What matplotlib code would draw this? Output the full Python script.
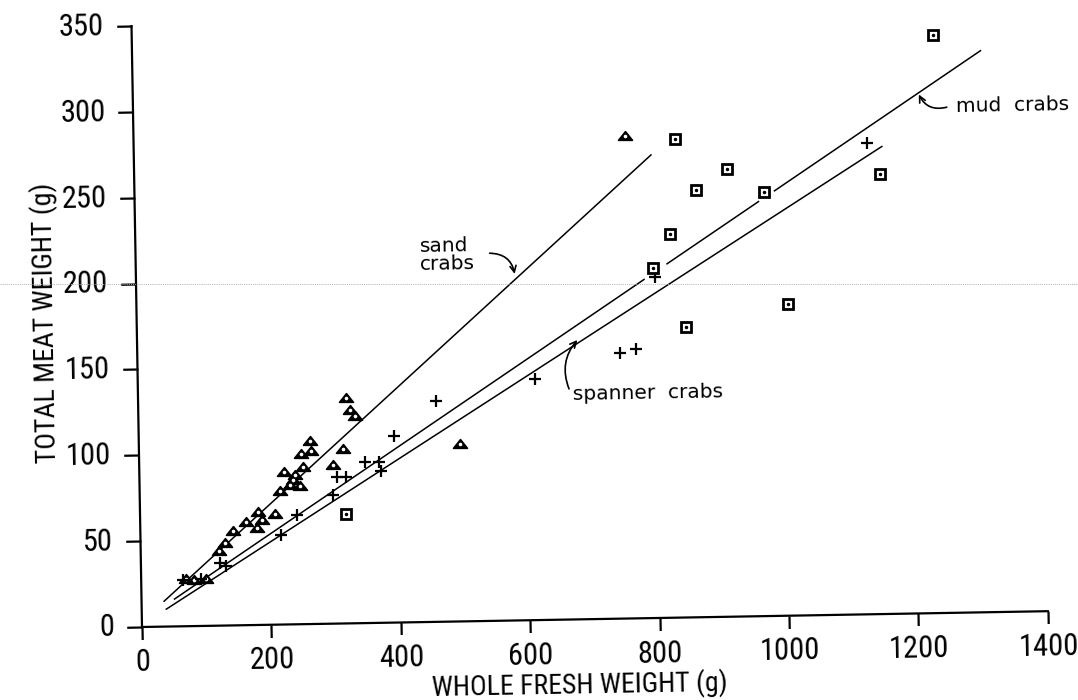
import numpy as np
import matplotlib
matplotlib.use("Agg")
import matplotlib.pyplot as plt
from matplotlib.path import Path
from matplotlib.lines import Line2D
from matplotlib.transforms import Affine2D
from matplotlib import font_manager
import mpl_toolkits.axisartist.floating_axes as floating_axes
from mpl_toolkits.axisartist.grid_finder import FixedLocator, DictFormatter

# ---------------- data ----------------
x_ticks = [0, 200, 400, 600, 800, 1000, 1200, 1400]
y_ticks = [0, 50, 100, 150, 200, 250, 300, 350]

sand_x = [70, 82, 100, 121, 130, 143.5, 164, 180, 183, 189, 208, 217, 224, 232,
          237.5, 240, 248, 251, 253, 264, 266, 300, 316, 322, 327, 334, 497, 759]
sand_y = [27.5, 27, 27.5, 43.6, 47.8, 55.1, 59.8, 56.2, 65.8, 61.0, 64.3, 77.8, 88.9, 81.1,
          83.9, 86.8, 80.4, 99.4, 91.6, 106.6, 100.8, 92.6, 101.6, 131.0, 124.0, 120.5, 103.5, 281.0]

spanner_x = [65, 92, 122, 132, 218, 242, 298, 305, 320, 349, 371, 374, 394, 460,
             613.5, 745.5, 770, 801.5, 1133]
spanner_y = [27, 27.5, 36.6, 34.6, 52, 63.5, 74.8, 85.4, 85.3, 94, 93.6, 88.4, 108.5, 128.4,
             140.5, 154.5, 157, 198.7, 274.3]

mud_x = [319, 799, 826, 837, 848, 867, 916, 972, 1007, 1152, 1238]
mud_y = [64, 203.6, 223.4, 279, 168.9, 248.8, 261, 247.2, 181.7, 256.4, 336.4]

# fitted lines (end points)
sand_fit_x = [34, 800]
sand_fit_y = [14.5, 270]
spanner_fit_x = [37, 1157]
spanner_fit_y = [9.9, 272.5]
mud_fit_x = [[50, 786], [820, 965], [988, 1312]]
mud_fit_y = [[15.7, 197.5], [205.9, 241.7], [247.3, 327.3]]

x_label = "WHOLE FRESH WEIGHT (g)"
y_label = "TOTAL MEAT WEIGHT (g)"

# ---------------- fonts ----------------
fl = font_manager.fontManager.ttflist
names = {f.name for f in fl}
NARROW = None
for cand in ['Liberation Sans Narrow', 'Roboto Condensed', 'Noto Sans Condensed',
             'Open Sans Condensed', 'DejaVu Sans Condensed', 'Arial Narrow']:
    if cand in names:
        NARROW = dict(family=cand)
        break
if NARROW is None:
    for st in ('extra-condensed', 'condensed', 'semi-condensed'):
        for fam in ('Roboto', 'Noto Sans', 'Open Sans', 'Liberation Sans', 'DejaVu Sans'):
            if any(f.name == fam and f.stretch == st for f in fl):
                NARROW = dict(family=fam, stretch=st)
                break
        if NARROW:
            break
if NARROW is None:
    NARROW = dict(family='DejaVu Sans')
ANNOT_FONT = 'DejaVu Sans'

# ---------------- figure ----------------
W, H, DPI = 1078, 700, 100
fig = plt.figure(figsize=(W / DPI, H / DPI), dpi=DPI)

SX, SY, THETA = 906 / 1400, 601 / 350, 1.0
tr = Affine2D().scale(SX, SY).rotate_deg(THETA)

grid_helper = floating_axes.GridHelperCurveLinear(
    tr, extremes=(0, 1400, 0, 350),
    grid_locator1=FixedLocator(x_ticks),
    grid_locator2=FixedLocator(y_ticks),
    tick_formatter1=DictFormatter({v: str(v) for v in x_ticks}),
    tick_formatter2=DictFormatter({v: str(v) for v in y_ticks}))

ax = fig.add_axes([0.113495, 0.095476, 0.867048, 0.898649],
                  axes_class=floating_axes.FloatingAxes, grid_helper=grid_helper)
ax.patch.set_edgecolor('none')

ax.axis["top"].set_visible(False)
ax.axis["right"].set_visible(False)
for side, tsize, pad in (("left", 11, 9), ("bottom", 9, 7)):
    a = ax.axis[side]
    a.line.set_linewidth(1.6)
    a.major_ticks.set_tick_out(True)
    a.major_ticks.set_ticksize(tsize)
    a.major_ticks.set_markeredgewidth(1.6)
    a.major_ticklabels.set_fontsize(22)
    a.major_ticklabels.set_fontfamily(NARROW['family'])
    if 'stretch' in NARROW:
        a.major_ticklabels.set_fontstretch(NARROW['stretch'])
    a.major_ticklabels.set_pad(pad)

aux = ax.get_aux_axes(tr)

# axis titles (placed where they sit in the scanned original)
lab_kw = dict(fontsize=20, family=NARROW['family'], color='k', ha='center', va='center')
if 'stretch' in NARROW:
    lab_kw['stretch'] = NARROW['stretch']
aux.text(674, -38.5, x_label, rotation=THETA, **lab_kw)
aux.text(-142, 178, y_label, rotation=90 + THETA, **lab_kw)

# regression lines
aux.plot(sand_fit_x, sand_fit_y, color='k', lw=1.1, solid_capstyle='butt')
aux.plot(spanner_fit_x, spanner_fit_y, color='k', lw=1.1, solid_capstyle='butt')
for xs, ys in zip(mud_fit_x, mud_fit_y):
    aux.plot(xs, ys, color='k', lw=1.1, solid_capstyle='butt')

# markers
tri = Path([(-1.0, -0.55), (1.0, -0.55), (0.0, 0.7), (-1.0, -0.55)],
           [Path.MOVETO, Path.LINETO, Path.LINETO, Path.CLOSEPOLY])
aux.plot(sand_x, sand_y, ls='none', marker=tri, ms=10, mfc='k', mec='k', mew=1.2)
aux.plot(sand_x, sand_y, ls='none', marker='o', ms=2.6, mfc='white', mec='none')
aux.plot(spanner_x, spanner_y, ls='none', marker='+', ms=9, mec='k', mew=1.6)
aux.plot(mud_x, mud_y, ls='none', marker='s', ms=6.5, mfc='white', mec='k', mew=2.0)
aux.plot(mud_x, mud_y, ls='none', marker='.', ms=3, mec='k', mfc='k')

# annotations
tk = dict(fontsize=14.5, family=ANNOT_FONT, color='k', rotation=THETA,
          rotation_mode='anchor')
aux.text(439, 213.5, "sand\ncrabs", ha='left', va='center', linespacing=0.95, **tk)
aux.text(1272, 291.7, "mud  crabs", ha='left', va='baseline', **tk)
aux.text(672, 127.9, "spanner  crabs", ha='left', va='baseline', **tk)

ap = dict(arrowstyle='->,head_length=0.45,head_width=0.22', color='k', lw=1.2,
          shrinkA=0, shrinkB=0)
aux.annotate("", xy=(585.3, 201.8), xytext=(547.2, 214.1),
             arrowprops=dict(connectionstyle='arc3,rad=-0.4', **ap))
aux.annotate("", xy=(1214.5, 302.2), xytext=(1257.4, 294.5),
             arrowprops=dict(connectionstyle='arc3,rad=-0.4', **ap))
aux.annotate("", xy=(680.5, 162.7), xytext=(666.2, 134.3),
             arrowprops=dict(connectionstyle='arc3,rad=-0.3', **ap))

# faint scanner line across the page
fig.add_artist(Line2D([0, 1], [(H - 283.5) / H] * 2, transform=fig.transFigure,
                      color='#b0b0b0', lw=0.7, ls=(0, (1, 1.2))))

fig.savefig("out.png", dpi=DPI)
